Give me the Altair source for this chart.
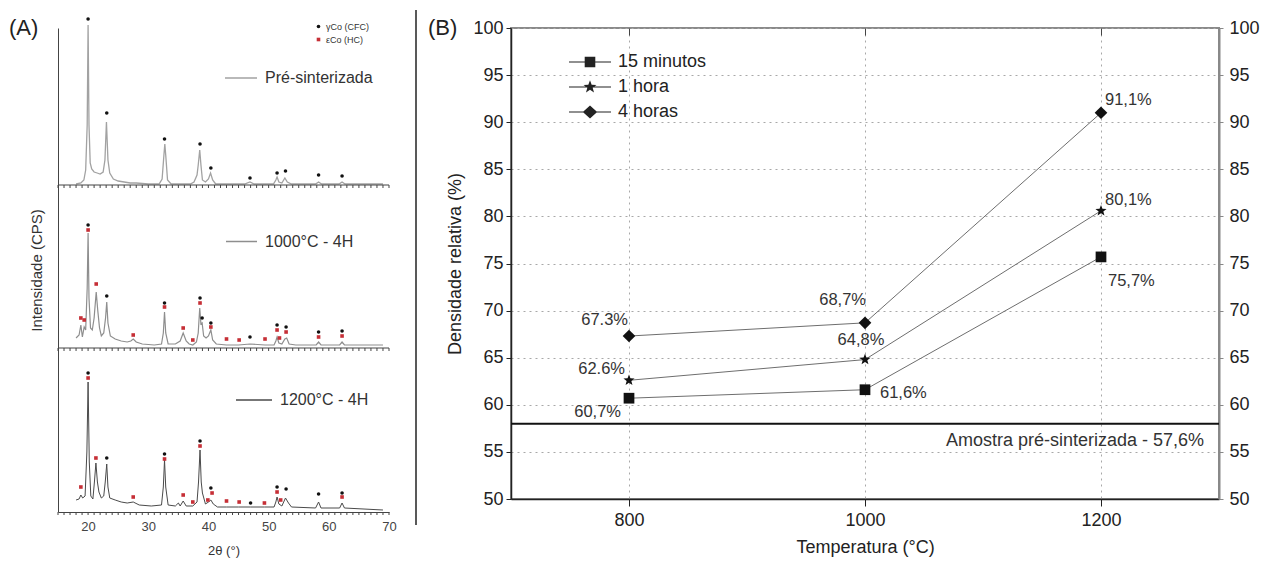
import math
import altair as alt
import pandas as pd

FONT = "Liberation Sans"

# ---------------- (A) XRD patterns: (2θ in °, intensity in relative units) ----------------
pre_pts = [(18.0, 1), (18.8, 2), (19.3, 5), (19.6, 15), (19.85, 60), (20.0, 160), (20.15, 60), (20.35, 22),
           (20.6, 16), (21.0, 13), (21.5, 12), (22.0, 11), (22.5, 13), (22.8, 25), (23.05, 63), (23.3, 25),
           (23.6, 12), (24.2, 6), (25.0, 4), (26.0, 3), (27.0, 2), (28.0, 2), (30.0, 1), (31.8, 1), (32.3, 6),
           (32.6, 30), (32.75, 41), (32.9, 30), (33.2, 5), (33.8, 1), (37.0, 1), (37.6, 3), (38.1, 10),
           (38.3, 20), (38.55, 35), (38.75, 20), (39.0, 5), (39.5, 3), (40.0, 6), (40.35, 12), (40.7, 5),
           (41.2, 1), (46.0, 1), (46.9, 3), (47.6, 1), (50.8, 1), (51.2, 5), (51.4, 8), (51.7, 3), (52.2, 2),
           (52.7, 7), (53.1, 3), (53.8, 1), (57.8, 1), (58.3, 3), (58.8, 1), (61.7, 1), (62.2, 3), (62.7, 1),
           (69.0, 1)]
mid_pts = [(18.0, 10), (18.5, 13), (18.8, 23), (19.05, 11), (19.35, 21), (19.6, 18), (19.85, 60), (20.0, 115),
           (20.15, 50), (20.4, 20), (20.7, 18), (21.0, 30), (21.35, 56), (21.6, 38), (21.9, 20), (22.2, 12),
           (22.6, 15), (22.9, 30), (23.1, 46), (23.3, 25), (23.7, 12), (24.5, 9), (25.5, 7), (26.5, 6),
           (27.1, 7), (27.5, 9), (28.0, 6), (29.0, 4), (31.0, 3), (32.2, 4), (32.5, 15), (32.7, 36), (32.9, 15),
           (33.3, 4), (34.5, 4), (35.3, 7), (35.8, 15), (36.3, 7), (36.8, 4), (37.4, 3), (38.0, 6), (38.3, 15),
           (38.55, 40), (38.75, 24), (38.95, 25), (39.2, 12), (39.6, 10), (40.0, 12), (40.4, 18), (40.7, 8),
           (41.3, 4), (43.0, 3), (45.0, 3), (46.9, 4), (49.4, 3), (50.9, 3), (51.2, 7), (51.4, 11), (51.7, 5),
           (52.2, 4), (52.7, 9), (53.0, 10), (53.4, 4), (54.5, 3), (57.9, 3), (58.3, 6), (58.7, 3), (61.8, 3),
           (62.2, 6), (62.6, 3), (69.0, 3)]
bot_pts = [(18.0, 12), (18.5, 13), (18.8, 17), (19.1, 14), (19.5, 16), (19.8, 60), (20.0, 130), (20.2, 50),
           (20.45, 16), (20.8, 13), (21.05, 30), (21.3, 49), (21.55, 30), (21.8, 20), (22.2, 14), (22.6, 16),
           (22.85, 30), (23.1, 48), (23.3, 25), (23.6, 14), (24.5, 12), (25.5, 10), (26.5, 9), (27.5, 10),
           (28.5, 7), (30.5, 6), (32.2, 7), (32.5, 25), (32.7, 52), (32.9, 25), (33.3, 7), (34.5, 6), (35.0, 9),
           (35.3, 6), (35.8, 11), (36.3, 6), (37.4, 6), (38.1, 10), (38.35, 30), (38.6, 62), (38.8, 30),
           (39.0, 19), (39.5, 8), (40.0, 10), (40.4, 12), (40.8, 8), (41.5, 5), (43.0, 5), (45.0, 5), (47.0, 5),
           (49.3, 5), (50.9, 5), (51.2, 10), (51.4, 15), (51.7, 8), (52.2, 6), (52.8, 14), (53.3, 9), (53.8, 5),
           (57.8, 4), (58.3, 10), (58.7, 4), (61.8, 4), (62.2, 9), (62.6, 4), (69.0, 2)]

# phase markers (2θ, marker height in the same units)
pre_gamma = [(20.0, 166), (23.1, 72), (32.7, 46), (38.6, 41), (40.4, 17), (46.9, 7), (51.4, 12), (52.8, 14),
             (58.3, 10), (62.2, 9)]
pre_eps = []
mid_gamma = [(20.0, 123), (23.1, 52), (32.7, 45), (38.6, 50), (38.95, 30), (40.4, 25), (46.9, 11), (51.4, 23),
             (52.9, 21), (58.3, 16), (62.2, 17)]
mid_eps = [(18.8, 30), (19.35, 28), (20.0, 118), (21.35, 64), (27.5, 13), (32.7, 41), (35.8, 20), (37.4, 8),
           (38.6, 45), (40.4, 21), (43.0, 9), (45.1, 8), (49.4, 9), (51.4, 18), (51.8, 10), (52.9, 16),
           (58.3, 11), (62.2, 12)]
bot_gamma = [(20.0, 139), (23.1, 54), (32.7, 58), (38.6, 71), (40.4, 24), (47.0, 9), (51.4, 25), (52.9, 23),
             (58.3, 18), (62.2, 19)]
bot_eps = [(18.8, 25), (20.0, 134), (21.3, 54), (27.5, 15), (32.7, 53), (35.8, 17), (37.4, 10), (38.6, 66),
           (39.9, 12), (40.6, 19), (43.0, 11), (45.1, 10), (49.3, 9), (51.4, 20), (52.0, 12), (62.2, 15)]

samples = ["Pré-sinterizada", "1000°C - 4H", "1200°C - 4H"]
phases = ["γCo (CFC)", "εCo (HC)"]
two_theta_ticks = list(range(15, 71))
two_theta_labels = list(range(20, 71, 10))

# ---------------- (B) relative density ----------------
temps = [800, 1000, 1200]
series = ["15 minutos", "1 hora", "4 horas"]
dens_15min = [60.7, 61.6, 75.7]
dens_1h = [62.6, 64.8, 80.6]
dens_4h = [67.3, 68.7, 91.0]
lab_15min = ["60,7%", "61,6%", "75,7%"]
lab_1h = ["62.6%", "64,8%", "80,1%"]
lab_4h = ["67.3%", "68,7%", "91,1%"]
pre_density = 58.0
pre_label = "Amostra pré-sinterizada - 57,6%"

# ---------------- styles ----------------
W_A, H_A = 331, 484
BASES = [327, 164, 0]           # vertical offset of each pattern (stacking)
LINE_COLORS = ["#a2a2a2", "#8e8e8e", "#4a4a4a"]
LINE_WIDTHS = [1.3, 1.2, 1.0]
LEG_POS = [(166, 33, 32), (167, 197, 31), (177, 353, 36)]   # legendX, legendY, symbol length
W_B, H_B = 708, 471
RED = "#c62f36"
DARK = "#222222"


def star_path(r_out, r_in):
    pts = []
    for k in range(10):
        r = r_out if k % 2 == 0 else r_in
        a = -math.pi / 2 + k * math.pi / 5
        pts.append(f"{r * math.cos(a):.3f},{r * math.sin(a):.3f}")
    return "M" + " L".join(pts) + " Z"


STAR = star_path(1.0, 0.42)
BAR = "M-2.1,-0.05 H2.1 V0.05 H-2.1 Z "
LEG_PATHS = [
    BAR + "M-0.53,-0.53 H0.53 V0.53 H-0.53 Z",
    BAR + star_path(0.68, 0.28),
    BAR + "M0,-0.66 L0.72,0 L0,0.66 L-0.72,0 Z",
]

# ---------------- panel A (one layered chart, patterns stacked) ----------------
xa = alt.Scale(domain=[15, 70], nice=False, zero=False)
ya = alt.Scale(domain=[0, H_A], nice=False, zero=False)
xa_axis = alt.Axis(values=two_theta_labels, ticks=False, domainColor="#444", grid=False, labelFontSize=13,
                   labelColor="#444", labelPadding=8, labelFlush=False, title="2θ (°)", titleFontSize=13,
                   titleFontWeight="normal", titleColor="#333", titlePadding=11)
ya_axis = alt.Axis(labels=False, ticks=False, grid=False, domainColor="#444", title="Intensidade (CPS)",
                   titleFontSize=15, titleFontWeight="normal", titleColor="#333", titlePadding=14)

a_layers = []
all_pts = [pre_pts, mid_pts, bot_pts]
for k in range(3):
    df = pd.DataFrame({"tt": [p[0] for p in all_pts[k]], "inten": [p[1] for p in all_pts[k]],
                       "amostra": samples[k]})
    df["yy"] = df["inten"] + BASES[k]
    lx, ly, ln = LEG_POS[k]
    a_layers.append(
        alt.Chart(df).mark_line(strokeWidth=LINE_WIDTHS[k]).encode(
            x=alt.X("tt:Q", scale=xa, axis=xa_axis if k == 0 else None),
            y=alt.Y("yy:Q", scale=ya, axis=ya_axis if k == 0 else None),
            stroke=alt.Stroke("amostra:N", scale=alt.Scale(domain=[samples[k]], range=[LINE_COLORS[k]]),
                              legend=alt.Legend(orient="none", legendX=lx, legendY=ly, title=None,
                                                symbolType="stroke", symbolSize=ln * ln,
                                                symbolStrokeWidth=1.5, labelFontSize=16, labelColor="#333",
                                                labelOffset=7, padding=0)),
        )
    )

mk_rows = []
for k, (g, e) in enumerate([(pre_gamma, pre_eps), (mid_gamma, mid_eps), (bot_gamma, bot_eps)]):
    for t, h in g:
        mk_rows.append({"tt": t, "yy": h + BASES[k], "fase": phases[0]})
    for t, h in e:
        mk_rows.append({"tt": t, "yy": h + BASES[k], "fase": phases[1]})
mk_df = pd.DataFrame(mk_rows)
phase_leg = alt.Legend(orient="none", legendX=256, legendY=-6, title=None, labelFontSize=9, labelColor="#333",
                       symbolSize=13, labelOffset=3, rowPadding=3, padding=0, symbolStrokeWidth=0)
a_layers.append(
    alt.Chart(mk_df).mark_point(filled=True, opacity=1, strokeWidth=0, size=13).encode(
        x=alt.X("tt:Q", scale=xa, axis=None),
        y=alt.Y("yy:Q", scale=ya, axis=None),
        fill=alt.Fill("fase:N", scale=alt.Scale(domain=phases, range=["#111111", RED]), legend=phase_leg),
        shape=alt.Shape("fase:N", scale=alt.Scale(domain=phases, range=["circle", "square"]), legend=phase_leg),
    )
)

# baselines of the two upper patterns and the small tick marks along every baseline
base_df = pd.DataFrame({"base": BASES[:2]})
a_layers.append(alt.Chart(base_df).mark_rule(color="#444", strokeWidth=1).encode(
    y=alt.Y("base:Q", scale=ya, axis=None)))
tick_rows = [{"tt": t, "b0": b, "b1": b - 3} for b in BASES for t in two_theta_ticks]
a_layers.append(alt.Chart(pd.DataFrame(tick_rows)).mark_rule(color="#444", strokeWidth=1).encode(
    x=alt.X("tt:Q", scale=xa, axis=None),
    y=alt.Y("b0:Q", scale=ya, axis=None),
    y2="b1:Q"))
a_layers.append(alt.Chart(pd.DataFrame({"t": ["(A)"]})).mark_text(
    align="left", baseline="middle", fontSize=22, color=DARK).encode(
    x=alt.value(-49), y=alt.value(0), text="t:N"))

panel_a = alt.layer(*a_layers).resolve_scale(stroke="independent").resolve_legend(
    stroke="independent").resolve_axis(x="independent", y="independent").properties(width=W_A, height=H_A)

# ---------------- panel B ----------------
rows = []
for s, vals, labs in [(series[0], dens_15min, lab_15min), (series[1], dens_1h, lab_1h),
                      (series[2], dens_4h, lab_4h)]:
    for t, v, l in zip(temps, vals, labs):
        rows.append({"temp": t, "dens": v, "serie": s, "label": l})
b_df = pd.DataFrame(rows)
b_df["idx"] = range(len(b_df))

# (align, dx, dy) for each label, in the order of b_df
label_styles = [
    ("right", -8, 14), ("left", 15, 3), ("left", 7, 24),
    ("right", -4, -11), ("center", -4, -20), ("left", 4, -11),
    ("right", -1, -16), ("right", 1, -23), ("left", 4, -13),
]

xs = alt.Scale(domain=[700, 1300], nice=False, zero=False)
ys = alt.Scale(domain=[50, 100], nice=False, zero=False)
yvals = list(range(50, 101, 5))


def bx(axis):
    return alt.X("temp:Q", scale=xs, axis=axis)


def by(axis):
    return alt.Y("dens:Q", scale=ys, axis=axis)


bottom_axis = alt.Axis(values=temps, format="d", title="Temperatura (°C)", labelFontSize=18, titleFontSize=18,
                       titleFontWeight="normal", titleColor=DARK, labelColor=DARK, tickSize=7,
                       tickColor=DARK, domainColor=DARK, domainWidth=1.5, labelPadding=5, titlePadding=9,
                       grid=True, gridColor="#a8a8a8", gridDash=[2, 4], labelFlush=False)
left_axis = alt.Axis(values=yvals, title="Densidade relativa (%)", labelFontSize=18, titleFontSize=18,
                     titleFontWeight="normal", titleColor=DARK, labelColor=DARK, tickSize=5, tickColor=DARK,
                     domainColor=DARK, domainWidth=1.5, labelPadding=3, titlePadding=8, grid=True,
                     gridColor="#a8a8a8", gridDash=[2, 4], labelFlush=False)
top_axis = alt.Axis(orient="top", values=temps, labels=False, domain=False, tickSize=7, tickColor="#444",
                    offset=-7, grid=False, title=None)
right_axis = alt.Axis(orient="right", values=yvals, labelFontSize=18, labelColor=DARK, tickSize=4,
                      tickColor="#888", domainColor="#888", domainWidth=2, labelPadding=6, grid=False,
                      title=None, labelFlush=False)

b_lines = alt.Chart(b_df).mark_line(color="#6e6e6e", strokeWidth=1).encode(
    x=bx(bottom_axis), y=by(left_axis), detail="serie:N", order="temp:Q")
b_points = alt.Chart(b_df).mark_point(filled=True, opacity=1, color="#111", strokeWidth=0).encode(
    x=bx(top_axis), y=by(right_axis),
    shape=alt.Shape("serie:N", scale=alt.Scale(domain=series, range=["square", STAR, "diamond"]), legend=None),
    size=alt.Size("serie:N", scale=alt.Scale(domain=series, range=[115, 160, 205]), legend=None),
)
b_labels = [
    alt.Chart(b_df).transform_filter(f"datum.idx == {i}").mark_text(
        align=al, dx=dx, dy=dy, baseline="middle", fontSize=16.5, color="#333").encode(
        x=bx(None), y=by(None), text="label:N")
    for i, (al, dx, dy) in enumerate(label_styles)
]
ref_df = pd.DataFrame({"dens": [pre_density], "txt": [pre_label]})
b_rule = alt.Chart(ref_df).mark_rule(color="#111", strokeWidth=2).encode(y=by(None))
b_rule_text = alt.Chart(ref_df).mark_text(align="right", baseline="middle", dx=-15, dy=17, fontSize=18,
                                          color="#333").encode(x=alt.value(W_B), y=by(None), text="txt:N")
b_legend = alt.Chart(pd.DataFrame({"serie": series})).transform_filter("false").mark_point(
    filled=True, opacity=1, color=DARK, strokeWidth=0, size=400).encode(
    x=alt.value(0), y=alt.value(0),
    shape=alt.Shape("serie:N", scale=alt.Scale(domain=series, range=LEG_PATHS),
                    legend=alt.Legend(orient="none", legendX=69, legendY=24, title=None, labelFontSize=18,
                                      labelColor=DARK, symbolSize=400, symbolFillColor=DARK,
                                      symbolStrokeWidth=0, symbolOpacity=1, labelOffset=18, rowPadding=6,
                                      padding=0, labelLimit=0)),
)
sep = alt.Chart(pd.DataFrame({"k": [0]})).mark_rule(color=DARK, strokeWidth=1.5).encode(
    x=alt.value(-95), y=alt.value(-18), y2=alt.value(497))
b_tag = alt.Chart(pd.DataFrame({"t": ["(B)"]})).mark_text(
    align="left", baseline="middle", fontSize=22, color=DARK).encode(x=alt.value(-83), y=alt.value(0), text="t:N")

panel_b = alt.layer(b_lines, b_points, *b_labels, b_rule, b_rule_text, b_legend, sep, b_tag).resolve_scale(
    x="independent", y="independent", shape="independent", size="independent").properties(
    width=W_B, height=H_B, view=alt.ViewBackground(stroke="#8a8a8a", strokeWidth=2))

chart = alt.hconcat(panel_a, panel_b, spacing=17).resolve_scale(
    shape="independent", size="independent", fill="independent", stroke="independent").properties(
    padding={"left": 0, "top": 0, "right": 0, "bottom": 0}).configure(font=FONT).configure_view(
    stroke="transparent").configure_axis(labelFont=FONT, titleFont=FONT).configure_legend(
    labelFont=FONT).configure_text(font=FONT)

chart.save("out.html", embed_options={"renderer": "svg", "actions": False})
